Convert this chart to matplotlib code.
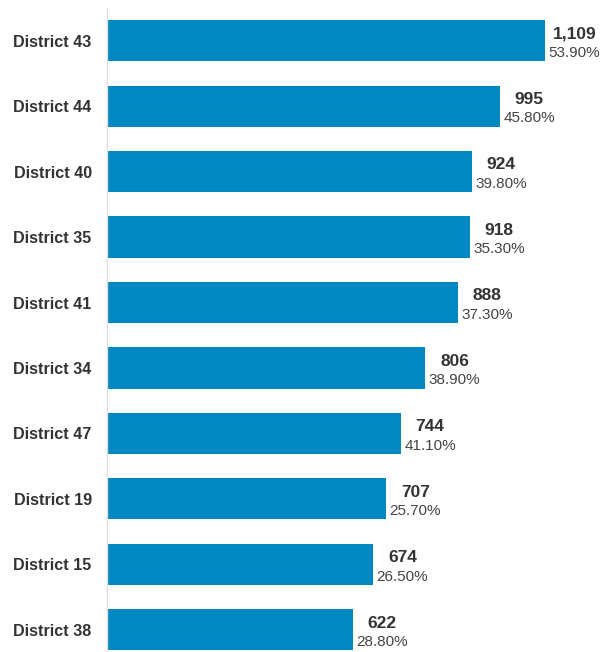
import matplotlib
matplotlib.use("Agg")
import matplotlib.pyplot as plt

districts = ["District 43", "District 44", "District 40", "District 35", "District 41",
             "District 34", "District 47", "District 19", "District 15", "District 38"]
counts = [1109, 995, 924, 918, 888, 806, 744, 707, 674, 622]
percents = [53.9, 45.8, 39.8, 35.3, 37.3, 38.9, 41.1, 25.7, 26.5, 28.8]

plt.rcParams['font.family'] = ['Liberation Sans', 'DejaVu Sans']

fig = plt.figure(figsize=(6.11, 6.52), dpi=100)
ax = fig.add_axes([107 / 611, 0, 1 - 107 / 611, 1 - 8 / 652])

y = list(range(len(districts)))
ax.barh(y, counts, height=0.63, color="#0088c2")
ax.set_xlim(0, 504 / 0.395)
ax.set_ylim(9.34, -0.5)

for i in y:
    ax.annotate(f"{counts[i]:,}", (counts[i], i), xytext=(21, 4.8), textcoords="offset points",
                ha="center", va="center", fontsize=12.5, fontweight="bold", color="#333333")
    ax.annotate(f"{percents[i]:.2f}%", (counts[i], i), xytext=(21, -8.8), textcoords="offset points",
                ha="center", va="center", fontsize=11, color="#444444")

ax.set_yticks(y)
ax.set_yticklabels(districts, fontsize=11.6, fontweight="bold", color="#333333")
ax.tick_params(axis="y", length=0, pad=11)
ax.set_xticks([])
for s in ["top", "right", "bottom"]:
    ax.spines[s].set_visible(False)
ax.spines["left"].set_color("#dddddd")
ax.spines["left"].set_linewidth(1)

fig.savefig("out.png", dpi=100)
